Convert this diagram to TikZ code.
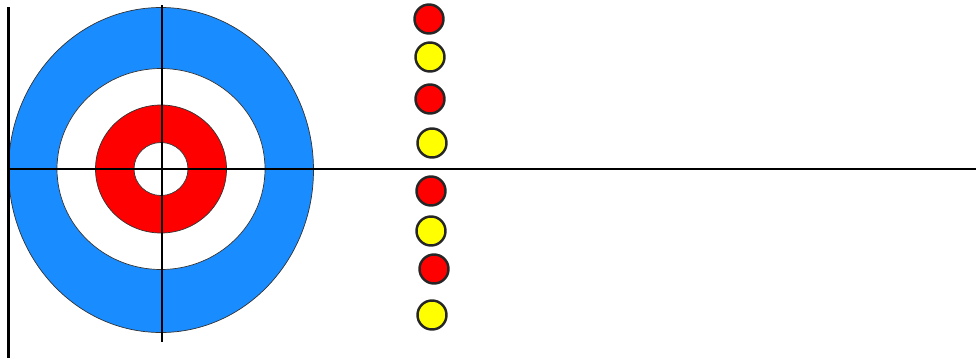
\documentclass[tikz,border=0pt]{standalone}
\usepackage{tikz}

\definecolor{houseblue}{RGB}{25,140,255}
\definecolor{stonered}{RGB}{255,0,0}
\definecolor{stoneyellow}{RGB}{255,255,0}

\begin{document}
\begin{tikzpicture}[x=0.02cm,y=-0.02cm]
\useasboundingbox (0,0) rectangle (976,362);
\fill[houseblue] (161,170) ellipse (152.5 and 162.5);
\draw[black!80] (161,170) ellipse (152.5 and 162.5);
\fill[white] (161,169) ellipse (104 and 100.5);
\draw[black!80] (161,169) ellipse (104 and 100.5);
\fill[stonered] (161,169) ellipse (65.5 and 64);
\draw[black!80] (161,169) ellipse (65.5 and 64);
\fill[white] (161,169) ellipse (27 and 26.5);
\draw[black!80] (161,169) ellipse (27 and 26.5);
\draw[line width=1.3pt] (8.5,7) -- (8.5,358);
\draw[line width=1.3pt] (162,5) -- (162,342);
\draw[line width=1.3pt] (8.5,169) -- (976,169);
\foreach \sx/\sy/\col in {429/19/stonered,430/57/stoneyellow,430/99/stonered,432/143/stoneyellow,
  431/191/stonered,431/231/stoneyellow,434/269/stonered,432/315/stoneyellow}
  \filldraw[fill=\col,draw=black!85,line width=1.4pt] (\sx,\sy) circle (14.5);
\end{tikzpicture}
\end{document}
